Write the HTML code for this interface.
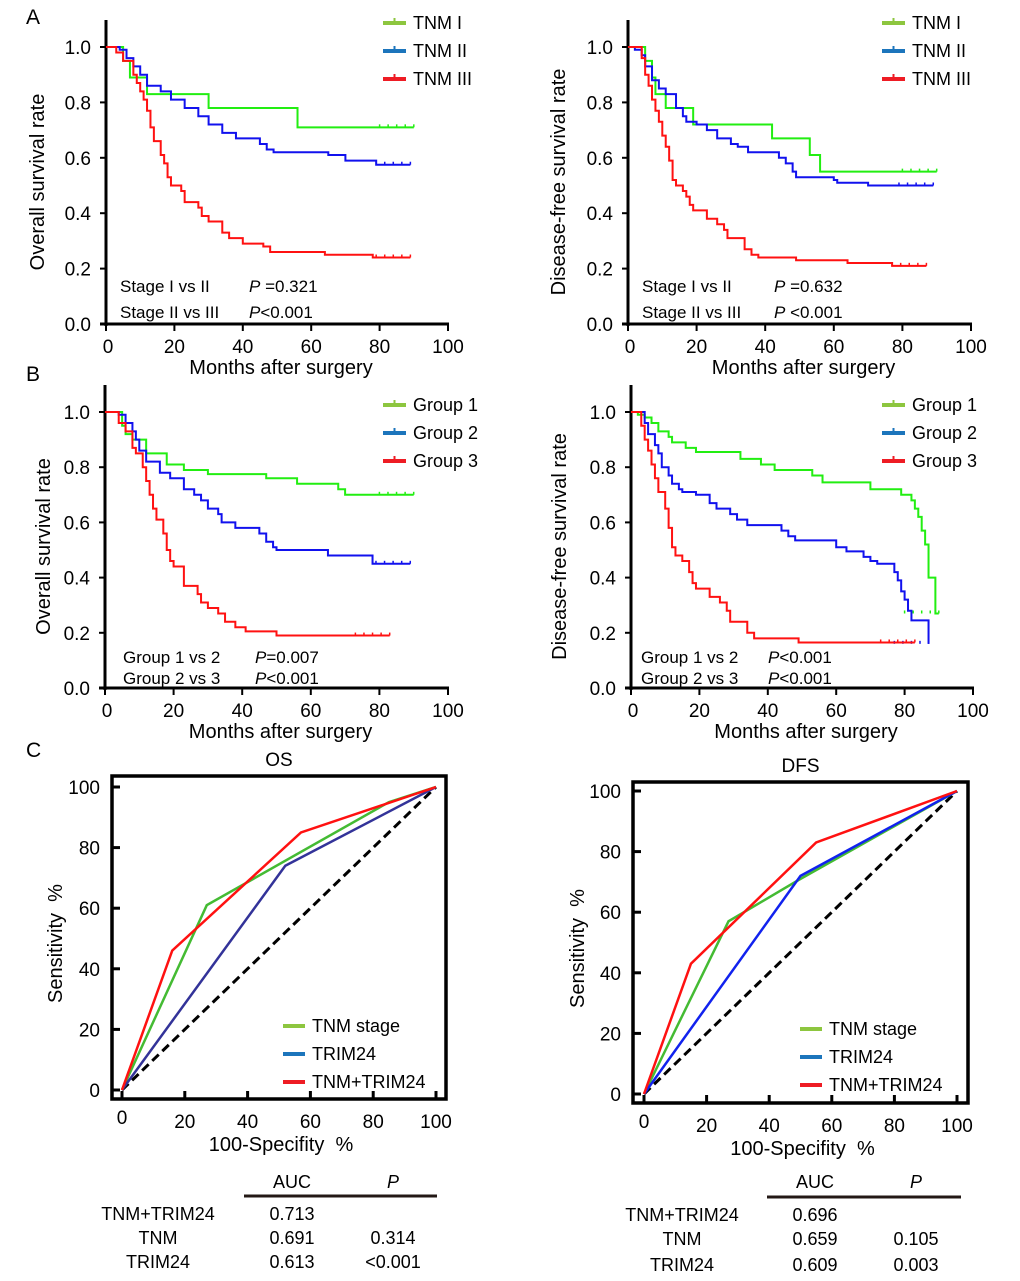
<!DOCTYPE html>
<html><head><meta charset="utf-8"><style>
body{margin:0;background:#fff;}
svg{display:block;font-family:"Liberation Sans",Arial,sans-serif;}
</style></head><body>
<svg id="fig" width="1020" height="1281" viewBox="0 0 1020 1281"></svg>
<script>
// ---------- data ----------
const aOsTnm1=[[0,1],[5,0.95],[7,0.89],[12,0.83],[30,0.78],[56,0.71],[90,0.71]];
const aOsTnm2=[[0,1],[4,0.99],[6,0.96],[8,0.93],[10,0.9],[12,0.86],[16,0.84],[19,0.81],[23,0.78],[27,0.75],[30,0.72],[34,0.69],[38,0.67],[45,0.65],[47,0.63],[49,0.62],[65,0.61],[70,0.59],[79,0.575],[89,0.575]];
const aOsTnm3=[[0,1],[3,0.98],[5,0.95],[8,0.9],[9,0.87],[10,0.84],[11,0.81],[12,0.77],[13,0.71],[14,0.66],[16,0.61],[17,0.58],[18,0.53],[19,0.5],[22,0.48],[23,0.44],[27,0.42],[28,0.39],[30,0.37],[34,0.33],[36,0.31],[40,0.29],[46,0.28],[48,0.26],[64,0.25],[78,0.24],[89,0.24]];
const aDfsTnm1=[[0,1],[5,0.95],[7,0.89],[8,0.83],[11,0.78],[19,0.72],[42,0.67],[53,0.61],[56,0.55],[90,0.55]];
const aDfsTnm2=[[0,1],[2,0.99],[4,0.97],[5,0.93],[7,0.88],[9,0.85],[11,0.83],[14,0.78],[16,0.75],[17,0.73],[20,0.72],[23,0.7],[26,0.67],[30,0.65],[32,0.64],[35,0.62],[44,0.6],[46,0.58],[48,0.55],[49,0.53],[60,0.52],[61,0.51],[70,0.5],[89,0.5]];
const aDfsTnm3=[[0,1],[4,0.96],[5,0.9],[6,0.86],[7,0.81],[8,0.77],[9,0.73],[10,0.68],[11,0.64],[12,0.59],[13,0.52],[14,0.5],[16,0.48],[17,0.46],[18,0.43],[19,0.41],[23,0.38],[26,0.36],[28,0.34],[29,0.31],[34,0.27],[36,0.25],[38,0.24],[49,0.23],[64,0.22],[77,0.21],[87,0.21]];
const bOsG1=[[0,1],[5,0.95],[6,0.92],[8,0.9],[12,0.85],[18,0.81],[23,0.79],[30,0.775],[47,0.76],[56,0.74],[68,0.72],[70,0.7],[90,0.7]];
const bOsG2=[[0,1],[4,0.99],[6,0.96],[8,0.93],[9,0.9],[10,0.86],[12,0.82],[16,0.78],[19,0.76],[23,0.72],[26,0.7],[28,0.68],[30,0.65],[33,0.63],[34,0.6],[38,0.58],[45,0.56],[47,0.53],[49,0.51],[50,0.5],[65,0.48],[78,0.45],[89,0.45]];
const bOsG3=[[0,1],[4,0.96],[6,0.93],[8,0.87],[9,0.85],[11,0.8],[12,0.75],[13,0.7],[14,0.65],[15,0.61],[17,0.56],[18,0.5],[19,0.46],[20,0.44],[23,0.37],[27,0.34],[28,0.31],[30,0.29],[33,0.27],[35,0.24],[38,0.22],[41,0.205],[50,0.19],[83,0.19]];
const bDfsG1=[[0,1],[2,0.99],[4,0.98],[6,0.96],[8,0.93],[11,0.91],[12,0.89],[16,0.87],[19,0.855],[32,0.83],[38,0.81],[42,0.79],[53,0.77],[56,0.745],[70,0.72],[79,0.7],[82,0.68],[83,0.65],[84,0.62],[85,0.57],[86,0.52],[87,0.4],[89,0.27],[90,0.27]];
const bDfsG2=[[0,1],[4,0.96],[5,0.92],[7,0.88],[8,0.85],[9,0.8],[11,0.77],[12,0.74],[14,0.72],[15,0.71],[19,0.7],[23,0.67],[25,0.65],[29,0.63],[31,0.61],[34,0.59],[44,0.57],[46,0.55],[48,0.535],[60,0.51],[63,0.495],[68,0.475],[70,0.46],[72,0.45],[77,0.42],[78,0.39],[79,0.35],[80,0.32],[81,0.28],[82,0.245],[87,0.245],[87,0.16]];
const bDfsG3=[[0,1],[3,0.95],[4,0.9],[5,0.86],[6,0.81],[7,0.76],[8,0.71],[10,0.65],[11,0.58],[12,0.51],[13,0.48],[15,0.46],[17,0.42],[18,0.38],[19,0.36],[23,0.33],[26,0.31],[28,0.28],[29,0.24],[34,0.2],[36,0.18],[49,0.165],[83,0.165]];
const kmXTicks=[0,20,40,60,80,100];
const kmYTicks=[0,0.2,0.4,0.6,0.8,1.0];
const rocTicks=[0,20,40,60,80,100];
const osRocTnm=[[0,0],[27,61],[85,95],[100,100]];
const osRocTrim=[[0,0],[52,74],[100,100]];
const osRocComb=[[0,0],[16,46],[57,85],[100,100]];
const dfsRocTnm=[[0,0],[27,57],[50,71],[100,100]];
const dfsRocTrim=[[0,0],[50,72],[100,100]];
const dfsRocComb=[[0,0],[15,43],[55,83],[100,100]];
const tableRows=["TNM+TRIM24","TNM","TRIM24"];
const osAuc=["0.713","0.691","0.613"];
const osP=["","0.314","<0.001"];
const dfsAuc=["0.696","0.659","0.609"];
const dfsP=["","0.105","0.003"];

const NS="http://www.w3.org/2000/svg";
const fig=document.getElementById('fig');
function mk(tag,attrs,parent,txt){const e=document.createElementNS(NS,tag);for(const k in attrs)e.setAttribute(k,attrs[k]);if(txt!==undefined)e.textContent=txt;(parent||fig).appendChild(e);return e;}
const GREEN="#22ee11",BLUE="#1111ee",RED="#ff1111";
const LG="#8dc63f",LB="#1c75bc",LR="#ee1c24";

function km(cfg){
  const g=mk('g',{});
  
  
  const sx=v=>cfg.x0+(cfg.x1-cfg.x0)*v/100;
  const sy=v=>cfg.y0+(cfg.y1-cfg.y0)*v;
  const ya=mk('line',{x1:cfg.x0,y1:cfg.top,x2:cfg.x0,y2:cfg.y0+2,stroke:'#000','stroke-width':3},g);
  
  const xa=mk('line',{x1:cfg.x0-6,y1:cfg.y0,x2:cfg.x1+1,y2:cfg.y0,stroke:'#000','stroke-width':3},g);
  
  kmYTicks.forEach(t=>{mk('line',{x1:cfg.x0-6,y1:sy(t),x2:cfg.x0,y2:sy(t),stroke:'#000','stroke-width':2},g);
    const l=mk('text',{x:cfg.x0-15,y:sy(t)+7,'font-size':19,'text-anchor':'end'},g,t.toFixed(1));
    });
  kmXTicks.forEach(t=>{mk('line',{x1:sx(t),y1:cfg.y0,x2:sx(t),y2:cfg.y0+7,stroke:'#000','stroke-width':2},g);
    const l=mk('text',{x:sx(t)+(t===0?2:0),y:cfg.y0+29,'font-size':19,'text-anchor':'middle'},g,String(t));
    });
  const xt=mk('text',{x:(cfg.x0+cfg.x1)/2+4,y:cfg.y0+50,'font-size':20,'text-anchor':'middle'},g,'Months after surgery');
  
  const yt=mk('text',{x:0,y:0,'font-size':20,'text-anchor':'middle',transform:`translate(${cfg.ytx},${(cfg.top+cfg.y0)/2+10}) rotate(-90)`},g,cfg.ytitle);
  
  cfg.series.forEach((s,i)=>{
    let d='';s.data.forEach((p,j)=>{if(j===0)d+=`M${sx(p[0])},${sy(p[1])}`;else d+=`H${sx(p[0])}V${sy(p[1])}`;});
    const path=mk('path',{d:d,fill:'none',stroke:s.color,'stroke-width':2},g);
    
    const last=s.data[s.data.length-1];
    for(let k=0;k<5;k++){const t=last[0]-k*2.5;mk('line',{x1:sx(t),y1:sy(last[1])-3,x2:sx(t),y2:sy(last[1]),stroke:s.color,'stroke-width':1.5},g);}
    const ly=cfg.legY+i*28;
    mk('line',{x1:cfg.legX,y1:ly,x2:cfg.legX+23,y2:ly,stroke:s.lc,'stroke-width':4},g);
    mk('line',{x1:cfg.legX+11.5,y1:ly-5,x2:cfg.legX+11.5,y2:ly,stroke:s.lc,'stroke-width':2},g);
    const lt=mk('text',{x:cfg.legX+30,y:ly+6,'font-size':18},g,s.label);
    
  });
  cfg.stats.forEach((s,i)=>{
    const y=cfg.statY+i*cfg.statDy;
    mk('text',{x:cfg.statX,y:y,'font-size':17},g,s[0]);
    const p=mk('text',{x:cfg.statPX,y:y,'font-size':17},g);
    mk('tspan',{'font-style':'italic'},p,'P');mk('tspan',{},p,s[1]);
  });
}
km({name:'os-tnm-chart',x0:106,x1:448,y0:324,y1:47,top:20,ytx:44,ytitle:'Overall survival rate',legX:383,legY:23,
  series:[{data:aOsTnm1,color:GREEN,lc:LG,label:'TNM I'},{data:aOsTnm2,color:BLUE,lc:LB,label:'TNM II'},{data:aOsTnm3,color:RED,lc:LR,label:'TNM III'}],
  stats:[['Stage I vs II',' =0.321'],['Stage II vs III','<0.001']],statX:120,statPX:249,statY:292,statDy:26});
km({name:'dfs-tnm-chart',x0:628,x1:971,y0:324,y1:47,top:20,ytx:565,ytitle:'Disease-free survival rate',legX:882,legY:23,
  series:[{data:aDfsTnm1,color:GREEN,lc:LG,label:'TNM I'},{data:aDfsTnm2,color:BLUE,lc:LB,label:'TNM II'},{data:aDfsTnm3,color:RED,lc:LR,label:'TNM III'}],
  stats:[['Stage I vs II',' =0.632'],['Stage II vs III',' <0.001']],statX:642,statPX:774,statY:292,statDy:26});
km({name:'os-group-chart',x0:105,x1:448,y0:688,y1:412,top:385,ytx:50,ytitle:'Overall survival rate',legX:383,legY:405,
  series:[{data:bOsG1,color:GREEN,lc:LG,label:'Group 1'},{data:bOsG2,color:BLUE,lc:LB,label:'Group 2'},{data:bOsG3,color:RED,lc:LR,label:'Group 3'}],
  stats:[['Group 1 vs 2','=0.007'],['Group 2 vs 3','<0.001']],statX:123,statPX:255,statY:663,statDy:21});
km({name:'dfs-group-chart',x0:631,x1:973,y0:688,y1:412,top:385,ytx:566,ytitle:'Disease-free survival rate',legX:882,legY:405,
  series:[{data:bDfsG1,color:GREEN,lc:LG,label:'Group 1'},{data:bDfsG2,color:BLUE,lc:LB,label:'Group 2'},{data:bDfsG3,color:RED,lc:LR,label:'Group 3'}],
  stats:[['Group 1 vs 2','<0.001'],['Group 2 vs 3','<0.001']],statX:641,statPX:768,statY:663,statDy:21});

function roc(cfg){
  const g=mk('g',{});
  
  
  const sx=v=>cfg.x0+(cfg.x1-cfg.x0)*v/100;
  const sy=v=>cfg.y0+(cfg.y1-cfg.y0)*v/100;
  const tt=mk('text',{x:(cfg.bx0+cfg.bx1)/2,y:cfg.by0-10,'font-size':19,'text-anchor':'middle'},g,cfg.title);
  
  const box=mk('rect',{x:cfg.bx0,y:cfg.by0,width:cfg.bx1-cfg.bx0,height:cfg.by1-cfg.by0,fill:'none',stroke:'#000','stroke-width':3.5},g);
  
  rocTicks.forEach(t=>{
    mk('line',{x1:cfg.bx0,y1:sy(t),x2:cfg.bx0+8,y2:sy(t),stroke:'#000','stroke-width':3},g);
    mk('line',{x1:sx(t),y1:cfg.by1,x2:sx(t),y2:cfg.by1-8,stroke:'#000','stroke-width':3},g);
    const yl=mk('text',{x:cfg.bx0-12,y:sy(t)+7,'font-size':19,'text-anchor':'end'},g,String(t));
    
    const xl=mk('text',{x:sx(t),y:cfg.by1+(t===0?25:29),'font-size':19,'text-anchor':'middle'},g,String(t));
    
  });
  const xt=mk('text',{x:(cfg.bx0+cfg.bx1)/2+2,y:cfg.by1+52,'font-size':20,'text-anchor':'middle'},g,'100-Specifity\u00a0\u00a0%');
  
  const yt=mk('text',{x:0,y:0,'font-size':20,'text-anchor':'middle',transform:`translate(${cfg.ytx},${(cfg.by0+cfg.by1)/2+6}) rotate(-90)`},g,'Sensitivity\u00a0\u00a0%');
  
  const dl=mk('line',{x1:sx(0),y1:sy(0),x2:sx(100),y2:sy(100),stroke:'#000','stroke-width':3,'stroke-dasharray':'9,5'},g);
  
  cfg.series.forEach((s,i)=>{
    const pts=s.data.map(p=>sx(p[0])+','+sy(p[1])).join(' ');
    const pl=mk('polyline',{points:pts,fill:'none',stroke:s.color,'stroke-width':2.5},g);
    
    const ly=cfg.legY+i*28;
    mk('line',{x1:cfg.legX,y1:ly,x2:cfg.legX+22,y2:ly,stroke:s.lc,'stroke-width':4},g);
    const lt=mk('text',{x:cfg.legX+29,y:ly+6,'font-size':18},g,s.label);
    
  });
  const t=cfg.table;
  mk('text',{x:t.aucX,y:t.headY,'font-size':18,'text-anchor':'middle'},g,'AUC');
  mk('text',{x:t.pX,y:t.headY,'font-size':18,'text-anchor':'middle','font-style':'italic'},g,'P');
  mk('line',{x1:t.rx0,y1:t.ruleY,x2:t.rx1,y2:t.ruleY,stroke:'#231815','stroke-width':3},g);
  tableRows.forEach((r,i)=>{
    const y=t.rowY[i];
    mk('text',{x:t.labX,y:y,'font-size':18,'text-anchor':'middle'},g,r);
    mk('text',{x:t.aucX,y:y,'font-size':18,'text-anchor':'middle'},g,t.auc[i]);
    mk('text',{x:t.pX,y:y,'font-size':18,'text-anchor':'middle'},g,t.p[i]);
  });
}
roc({name:'os-roc-chart',title:'OS',bx0:112,bx1:446,by0:776,by1:1099,x0:122,x1:436,y0:1090,y1:787,ytx:62,legX:283,legY:1026,
  series:[{data:osRocTnm,color:'#44bb33',lc:LG,label:'TNM stage'},{data:osRocTrim,color:'#333399',lc:LB,label:'TRIM24'},{data:osRocComb,color:'#ff1111',lc:LR,label:'TNM+TRIM24'}],
  table:{aucX:292,pX:393,labX:158,headY:1188,ruleY:1196,rx0:244,rx1:437,rowY:[1220,1244,1268],auc:osAuc,p:osP}});
roc({name:'dfs-roc-chart',title:'DFS',bx0:633,bx1:968,by0:782,by1:1103,x0:644,x1:957,y0:1094,y1:791,ytx:584,legX:800,legY:1029,
  series:[{data:dfsRocTnm,color:'#44bb33',lc:LG,label:'TNM stage'},{data:dfsRocTrim,color:'#1122ee',lc:LB,label:'TRIM24'},{data:dfsRocComb,color:'#ff1111',lc:LR,label:'TNM+TRIM24'}],
  table:{aucX:815,pX:916,labX:682,headY:1188,ruleY:1197,rx0:767,rx1:961,rowY:[1221,1245,1271],auc:dfsAuc,p:dfsP}});

[['A',26,24],['B',26,381],['C',26,757]].forEach(a=>{
  const t=mk('text',{x:a[1],y:a[2],'font-size':21},fig,a[0]);
  
  
});
</script>
</body></html>
